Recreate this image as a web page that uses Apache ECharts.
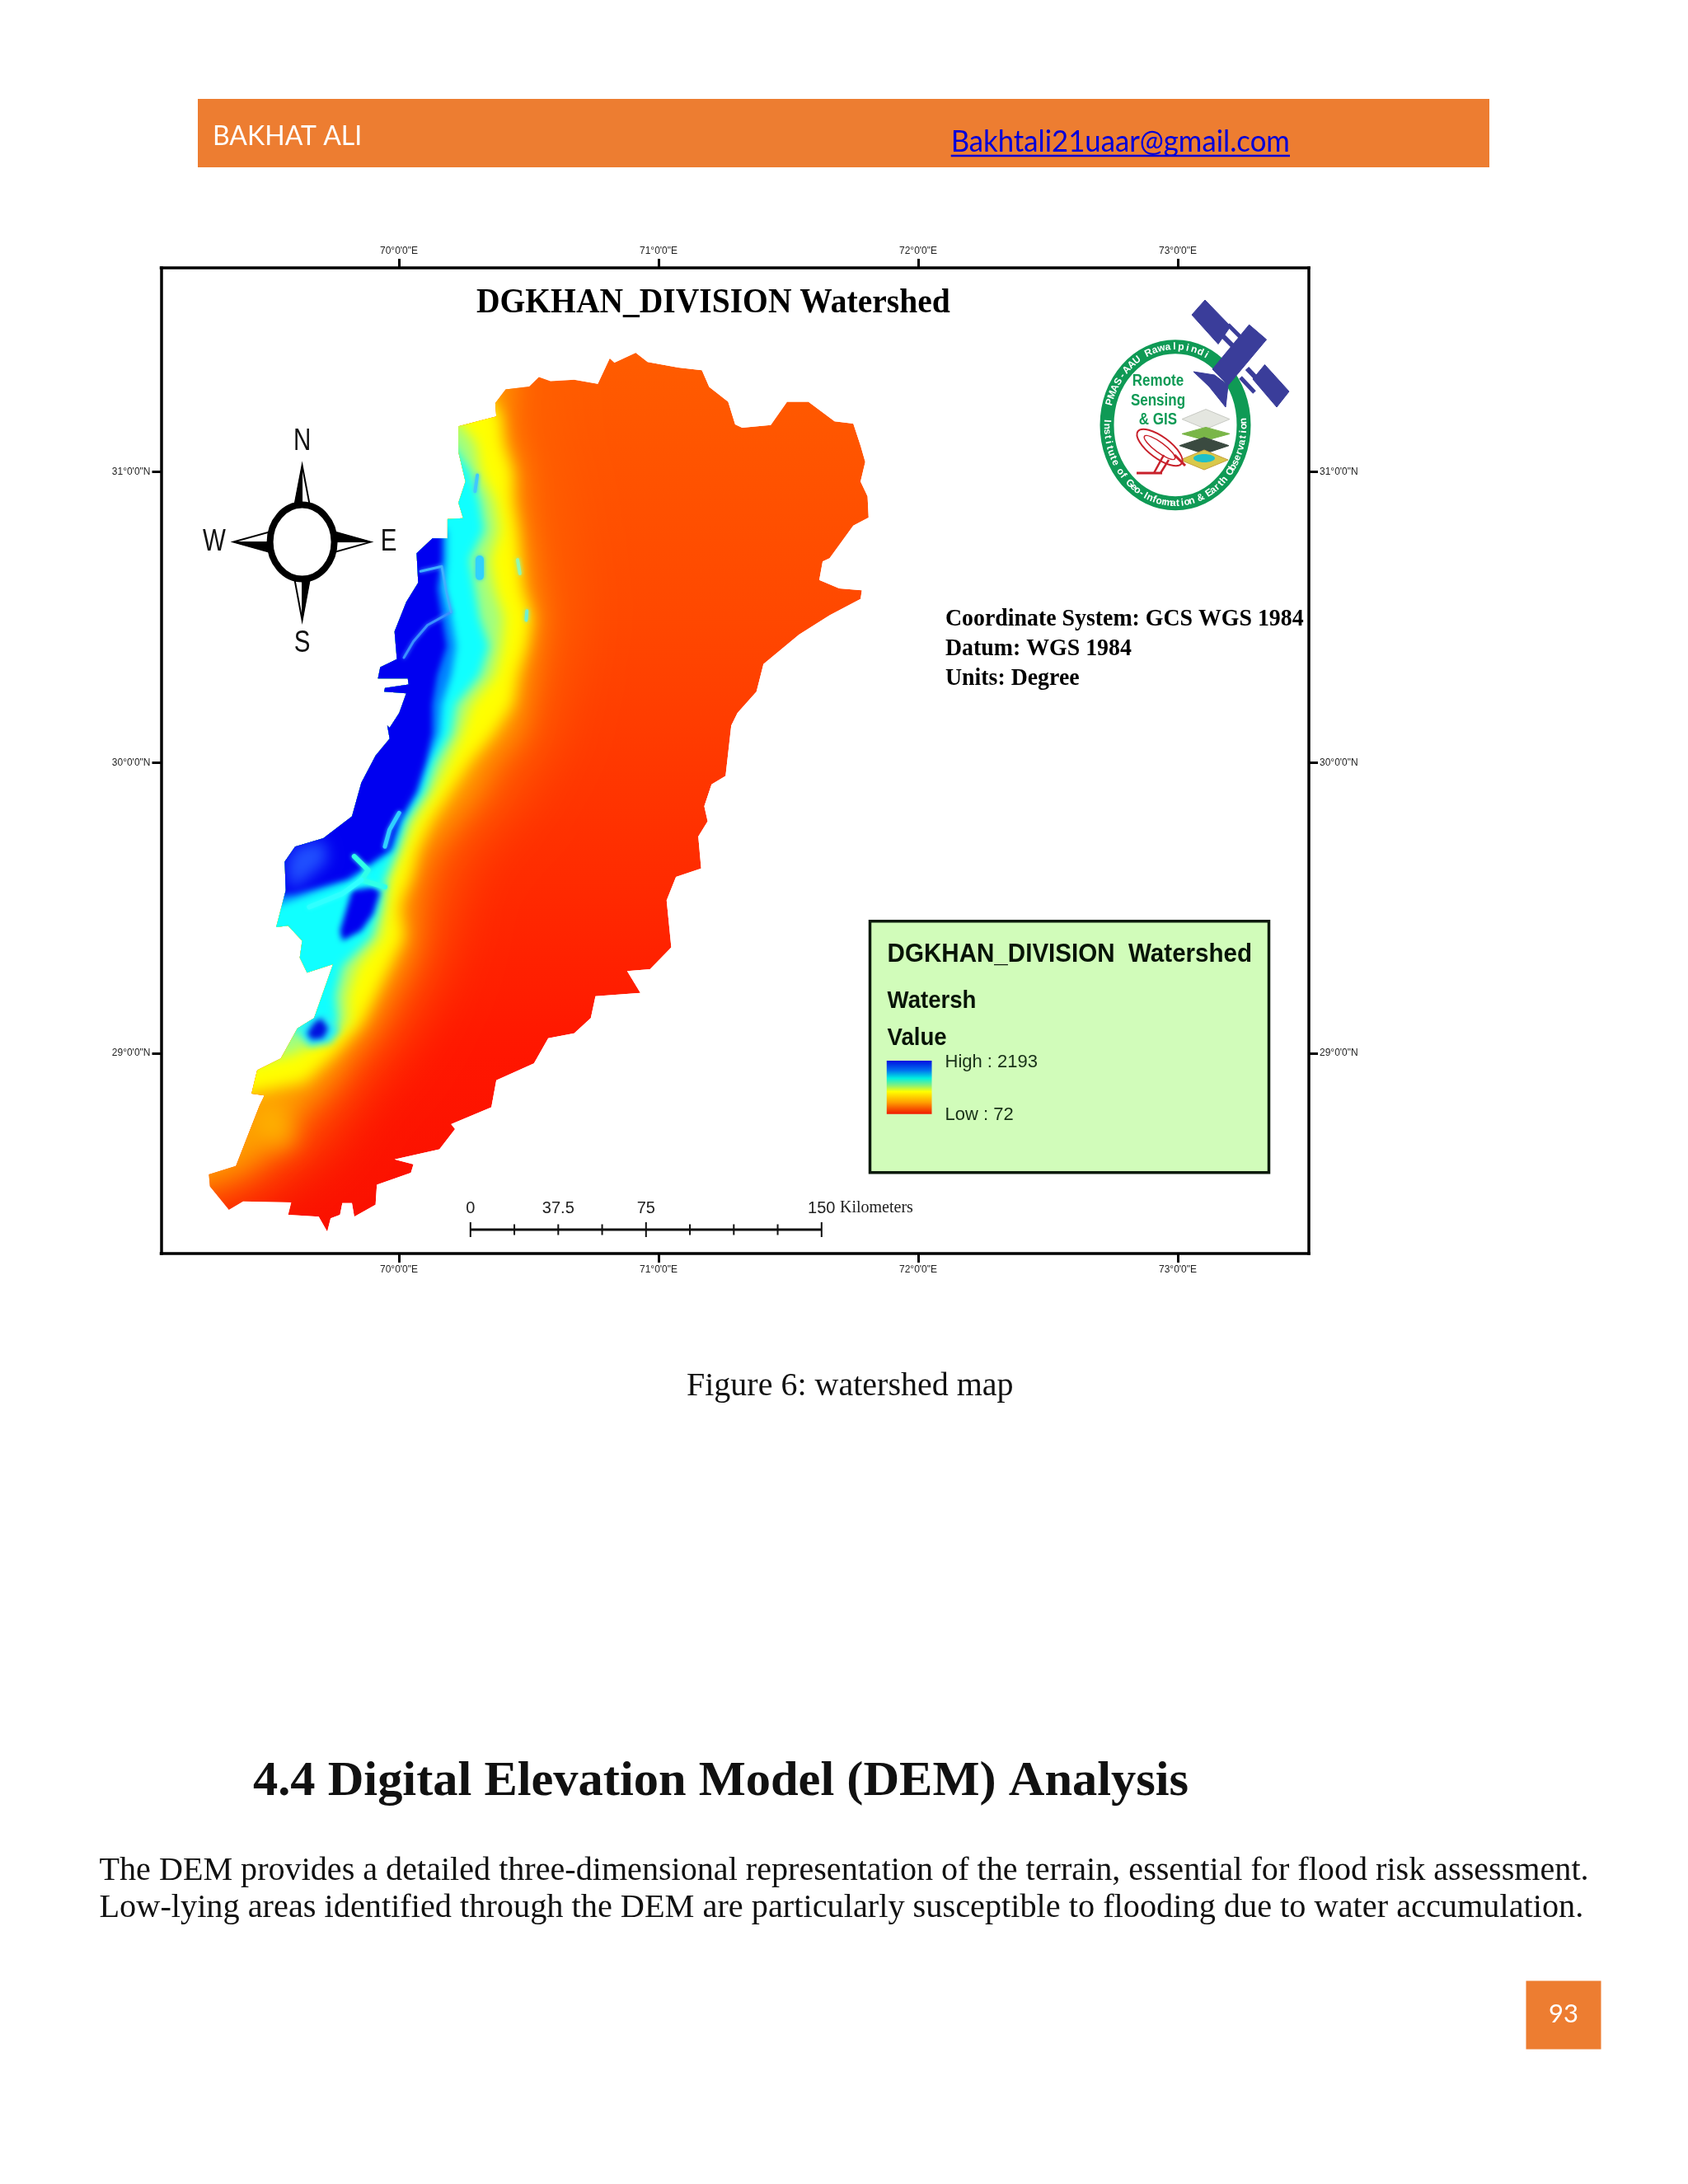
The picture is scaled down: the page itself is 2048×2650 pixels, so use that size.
<!DOCTYPE html>
<html>
<head>
<meta charset="utf-8">
<title>Watershed map</title>
<style>
html,body{margin:0;padding:0;background:#fff}
#chart{width:2048px;height:2650px}
</style>
<script src="https://cdn.jsdelivr.net/npm/echarts@6/dist/echarts.min.js"></script>
</head>
<body>
<div id="chart"></div>
<script>
// map ticks, degrees
const lonTicks=[70,71,72,73];
const latTicks=[29,30,31];

// scale bar, kilometres
const scaleTicks=[0,18.75,37.5,56.25,75,93.75,112.5,131.25,150];
const scaleLabels=[0,37.5,75,150];

// legend
const legendHigh=2193;
const legendLow=72;

// watershed boundary, [lon,lat], clockwise from the north-west corner
const basinOutline=[
[70.371,31.236],[70.411,31.284],[70.502,31.294],[70.539,31.326],[70.584,31.312],[70.675,31.317],[70.766,31.303],[70.812,31.391],
[70.830,31.376],[70.912,31.410],[70.958,31.378],[71.076,31.359],[71.167,31.350],[71.195,31.292],[71.268,31.241],[71.295,31.163],
[71.322,31.152],[71.432,31.161],[71.495,31.241],[71.577,31.241],[71.678,31.174],[71.750,31.166],[71.778,31.090],[71.796,31.034],
[71.778,30.967],[71.805,30.916],[71.809,30.843],[71.750,30.815],[71.659,30.703],[71.632,30.692],[71.619,30.628],[71.696,30.599],
[71.783,30.593],[71.778,30.563],[71.659,30.507],[71.541,30.440],[71.404,30.339],[71.377,30.244],[71.304,30.171],[71.280,30.128],
[71.258,29.954],[71.204,29.925],[71.176,29.850],[71.189,29.798],[71.153,29.746],[71.164,29.636],[71.067,29.607],[71.031,29.526],
[71.049,29.364],[70.967,29.289],[70.879,29.283],[70.930,29.208],[70.757,29.196],[70.739,29.121],[70.675,29.069],[70.575,29.052],
[70.520,28.965],[70.375,28.907],[70.356,28.814],[70.201,28.756],[70.216,28.739],[70.156,28.670],[69.983,28.635],[70.056,28.618],
[70.046,28.589],[69.915,28.548],[69.910,28.479],[69.828,28.438],[69.819,28.485],[69.782,28.485],[69.773,28.444],[69.737,28.432],
[69.724,28.386],[69.691,28.438],[69.573,28.444],[69.585,28.487],[69.400,28.490],[69.345,28.461],[69.272,28.542],[69.268,28.583],
[69.372,28.612],[69.463,28.820],[69.482,28.855],[69.432,28.861],[69.454,28.942],[69.545,28.982],[69.609,29.086],[69.673,29.121],
[69.746,29.306],[69.646,29.277],[69.618,29.329],[69.627,29.387],[69.573,29.439],[69.527,29.434],[69.564,29.561],[69.560,29.659],
[69.600,29.711],[69.709,29.740],[69.819,29.815],[69.855,29.931],[69.910,30.024],[69.964,30.082],[69.955,30.128],[69.964,30.120],
[70.001,30.171],[70.028,30.238],[69.943,30.244],[69.946,30.257],[70.037,30.269],[70.034,30.289],[69.919,30.289],[69.928,30.328],
[69.992,30.356],[69.983,30.451],[70.028,30.552],[70.074,30.619],[70.068,30.720],[70.129,30.771],[70.187,30.771],[70.187,30.838],
[70.247,30.841],[70.229,30.894],[70.256,30.967],[70.229,31.068],[70.229,31.157],[70.375,31.191]
];

// elevation bands: for each latitude row, the longitude where that band ends going east
const rowLats=[31.45,31.3,31.2,31.1,31.0,30.9,30.8,30.7,30.6,30.5,30.4,30.3,30.2,30.1,30.0,29.9,29.8,29.7,29.6,29.55,29.5,29.4,29.3,29.2,29.1,29.0,28.9,28.8,28.7,28.6,28.5,28.4];
const deepEdge=[70.620,70.584,70.584,70.584,70.621,70.639,70.639,70.657,70.675,70.675,70.657,70.621,70.602,70.584,70.511,70.457,70.347,70.256,70.201,70.190,70.183,70.165,70.128,70.074,70.019,69.946,69.837,69.764,69.709,69.550,69.400,69.1];
const orangeEdge=[70.420,70.438,70.420,70.438,70.475,70.475,70.493,70.511,70.520,70.548,70.529,70.511,70.493,70.466,70.365,70.311,70.220,70.128,70.083,70.070,70.056,70.065,70.028,69.964,69.910,69.819,69.746,69.618,69.545,69.420,69.1,69.1];
const yellowEdge=[69.1,70.300,70.393,70.402,70.438,70.438,70.457,70.466,70.475,70.511,70.493,70.457,70.438,70.365,70.274,70.201,70.128,70.074,70.046,70.020,70.001,70.019,69.964,69.910,69.855,69.755,69.636,69.1,69.1,69.1,69.1,69.1];
const greenEdge=[69.1,69.1,70.200,70.293,70.311,70.365,70.384,70.347,70.365,70.402,70.393,70.365,70.274,70.238,70.183,70.128,70.056,70.010,69.964,69.955,69.946,69.928,69.837,69.800,69.800,69.600,69.1,69.1,69.1,69.1,69.1,69.1];
const cyanEdge=[69.1,69.1,69.1,70.200,70.274,70.311,70.329,70.274,70.293,70.311,70.347,70.311,70.220,70.201,70.138,70.101,70.028,69.992,69.946,69.937,69.928,69.892,69.782,69.755,69.764,69.1,69.1,69.1,69.1,69.1,69.1,69.1];
const lightEdge=[69.1,69.1,69.1,69.1,69.1,69.1,70.183,70.183,70.174,70.201,70.220,70.201,70.165,70.156,70.110,70.074,70.010,69.974,69.819,69.660,69.500,69.1,69.1,69.1,69.1,69.1,69.1,69.1,69.1,69.1,69.1,69.1];
const blueEdge=[69.1,69.1,69.1,69.1,69.1,69.1,70.165,70.165,70.147,70.165,70.183,70.147,70.128,70.128,70.101,70.065,70.001,69.964,69.800,69.600,69.1,69.1,69.1,69.1,69.1,69.1,69.1,69.1,69.1,69.1,69.1,69.1];

// closed pockets that do not follow the bands
const westLobe=[[69.564,29.653],[69.600,29.711],[69.709,29.734],[69.728,29.665],[69.655,29.607],[69.582,29.561]];
const blueBasin=[[69.819,29.561],[69.901,29.572],[69.928,29.555],[69.901,29.480],[69.855,29.422],[69.782,29.387],[69.773,29.422],[69.800,29.503]];
const cyanRing=[[69.636,29.104],[69.718,29.133],[69.773,29.081],[69.737,29.034],[69.655,29.023],[69.615,29.069]];
const blueSpot=[[69.700,29.121],[69.728,29.086],[69.709,29.052],[69.664,29.046],[69.646,29.069],[69.673,29.104]];
const amberFan=[[69.491,28.832],[69.564,28.762],[69.600,28.693],[69.527,28.681],[69.463,28.751]];

// valley lines
const valleyA=[[70.201,30.518],[70.110,30.473],[70.056,30.417],[70.019,30.361]];
const valleyB=[[70.083,30.658],[70.165,30.675],[70.183,30.586],[70.201,30.518]];
const valleyC=[[69.946,29.572],[69.855,29.596],[69.882,29.630],[69.828,29.677]];
const valleyD=[[69.855,29.596],[69.782,29.549],[69.655,29.503]];
const valleyE=[[70.001,29.827],[69.964,29.769],[69.946,29.711]];
const valleyF=[[70.302,30.989],[70.293,30.933]];
const valleyG=[[70.311,30.698],[70.311,30.642]];
const valleyH=[[70.493,30.522],[70.490,30.490]];
const valleyI=[[70.457,30.698],[70.466,30.650]];

const WEST=69.1;
const SHIFT=4000;
const SERIF='"Liberation Serif","Times New Roman",serif';
const SANS='"Liberation Sans",Arial,sans-serif';
const ORANGE='#ed7d31';

function band(edge){
    const pts=[[WEST,rowLats[0]]];
    rowLats.forEach((lat,i)=>pts.push([edge[i],lat]));
    pts.push([WEST,rowLats[rowLats.length-1]]);
    return pts;
}

function toPx(api,pts,shift=0){
    return pts.map(p=>{
        const c=api.coord(p);
        return [c[0]-shift,c[1]];
    });
}

// soft layers sit off the canvas so only their blurred shadow lands on the map
function layer(name,pts,style,closed=true){
    return {
        type:'custom',
        name,
        xAxisIndex:0,
        yAxisIndex:0,
        silent:true,
        animation:false,
        encode:{x:0,y:1},
        data:pts,
        renderItem(params,api){
            if(params.dataIndex!==0){
                return null;
            }
            return {
                type:closed?'polygon':'polyline',
                shape:{points:toPx(api,pts,style.shadowOffsetX||0)},
                style,
                clipPath:{type:'polygon',shape:{points:toPx(api,basinOutline)}}
            };
        }
    };
}

function soft(fill,blur){
    return {fill,shadowColor:fill,shadowBlur:blur,shadowOffsetX:SHIFT};
}

function line(color,width){
    return {fill:null,stroke:color,lineWidth:width,lineCap:'round',lineJoin:'round',shadowColor:color,shadowBlur:5};
}

const baseFill=new echarts.graphic.LinearGradient(0,0,0,1,[
    {offset:0,color:'#ff5c00'},
    {offset:.3,color:'#ff4800'},
    {offset:.55,color:'#ff3000'},
    {offset:.8,color:'#ff1600'},
    {offset:1,color:'#fa1000'}
]);

const mapSeries=[
    layer('Boundary',basinOutline,{fill:baseFill}),
    layer('Band 1',band(deepEdge),soft('#ff6200',70)),
    layer('Band 2',band(orangeEdge),soft('#ff9e00',34)),
    layer('Amber fan',amberFan,soft('#ffbe00',30)),
    layer('Band 3',band(yellowEdge),soft('#ffff00',18)),
    layer('Band 4',band(greenEdge),soft('#a0ff80',16)),
    layer('Band 5',band(cyanEdge),soft('#10ffff',12)),
    layer('Band 6',band(lightEdge),soft('#0080ff',10)),
    layer('Band 7',band(blueEdge),soft('#0000f0',7)),
    layer('West lobe',westLobe,soft('#2050ff',18)),
    layer('Basin',blueBasin,soft('#0000f0',7)),
    layer('Ring',cyanRing,soft('#20f0ff',10)),
    layer('Spot',blueSpot,soft('#0010e0',7)),
    layer('Valley A',valleyA,line('#3a90ff',3),false),
    layer('Valley B',valleyB,line('#40b0ff',3),false),
    layer('Valley C',valleyC,line('#30ffe8',6),false),
    layer('Valley D',valleyD,line('#30ffff',6),false),
    layer('Valley E',valleyE,line('#30d0ff',5),false),
    layer('Valley F',valleyF,line('#40c8ff',4),false),
    layer('Valley G',valleyG,line('#30d0ff',10),false),
    layer('Valley H',valleyH,line('#70f0d0',4),false),
    layer('Valley I',valleyI,line('#90f8b0',4),false)
];

const scaleSeries={
    type:'custom',
    name:'Scale bar',
    xAxisIndex:2,
    yAxisIndex:2,
    silent:true,
    animation:false,
    data:scaleTicks.map(v=>[v,0]),
    encode:{x:0,y:1},
    renderItem(params,api){
        const v=api.value(0);
        const reach=v%75===0?.9:.65;
        const top=api.coord([v,reach]);
        const bottom=api.coord([v,-reach]);
        const children=[{type:'line',shape:{x1:top[0],y1:top[1],x2:bottom[0],y2:bottom[1]},style:{stroke:'#111',lineWidth:2}}];
        if(params.dataIndex===0){
            const a=api.coord([scaleTicks[0],0]);
            const b=api.coord([scaleTicks[scaleTicks.length-1],0]);
            children.push({type:'line',shape:{x1:a[0],y1:a[1],x2:b[0],y2:b[1]},style:{stroke:'#111',lineWidth:3}});
        }
        return {type:'group',children};
    }
};

function txt(text,x,y,font,fill='#000',align='left',extra={}){
    return Object.assign({type:'text',x,y,silent:true,style:{text,font,fill,align,verticalAlign:'middle'}},extra);
}

function poly(points,fill,stroke,lineWidth=2){
    return {type:'polygon',silent:true,shape:{points},style:{fill,stroke,lineWidth}};
}

function seg(x1,y1,x2,y2,stroke,lineWidth){
    return {type:'line',silent:true,shape:{x1,y1,x2,y2},style:{stroke,lineWidth}};
}

function compass(cx,cy){
    const out=[];
    const spikes=[
        [[cx,564.7],[cx-9,612],[cx,612],[cx+9,612]],
        [[449.8,cy],[cx+40,cy-12],[cx+40,cy],[cx+40,cy+12]],
        [[cx,752.5],[cx+9,704],[cx,704],[cx-9,704]],
        [[283.3,cy],[cx-40,cy+12],[cx-40,cy],[cx-40,cy-12]]
    ];
    spikes.forEach(s=>{
        out.push(poly([s[0],s[1],s[3]],'#fff','#000',2));
        out.push(poly([s[0],s[1],s[2]],'#000','#000',1));
    });
    out.push({type:'ellipse',silent:true,shape:{cx,cy,rx:39,ry:45},style:{fill:'#fff',stroke:'#000',lineWidth:8}});
    const narrow={scaleX:.82};
    out.push(txt('N',cx,536,'36px '+SANS,'#111','center',narrow));
    out.push(txt('S',cx,781,'36px '+SANS,'#111','center',narrow));
    out.push(txt('W',260,658,'36px '+SANS,'#111','center',narrow));
    out.push(txt('E',471.6,658,'36px '+SANS,'#111','center',narrow));
    return out;
}

function arcText(text,cx,cy,rx,ry,fromDeg,toDeg){
    const out=[];
    const chars=[...text];
    const dir=toDeg>fromDeg?1:-1;
    chars.forEach((ch,i)=>{
        const t=(fromDeg+(toDeg-fromDeg)*i/(chars.length-1))*Math.PI/180;
        const dx=-rx*Math.sin(t)*dir;
        const dy=ry*Math.cos(t)*dir;
        out.push(txt(ch,cx+rx*Math.cos(t),cy+ry*Math.sin(t),'bold 12px '+SANS,'#fff','center',{rotation:-Math.atan2(dy,dx)}));
    });
    return out;
}

function logo(){
    const cx=1426,cy=515.7;
    const green='#0f9a55',navy='#3a3d9a';
    const out=[];
    out.push({type:'ellipse',silent:true,shape:{cx,cy,rx:83,ry:95},style:{fill:'#fff',stroke:green,lineWidth:17}});
    out.push(...arcText('PMAS-AAU Rawalpindi',cx,cy,83,95,197,297));
    out.push(...arcText('Institute of Geo-Information & Earth Observation',cx,cy,83,95,183,-3));
    out.push(txt('Remote',1405,462,'bold 20px '+SANS,green,'center',{scaleX:.85}));
    out.push(txt('Sensing',1405,486,'bold 20px '+SANS,green,'center',{scaleX:.85}));
    out.push(txt('& GIS',1405,509,'bold 20px '+SANS,green,'center',{scaleX:.85}));
    // satellite
    out.push(seg(1480,404,1500,424,navy,6));
    out.push(seg(1490,394,1510,414,navy,5));
    out.push(seg(1513,447,1530,465,navy,6));
    out.push(seg(1505,458,1522,476,navy,5));
    out.push(poly([[1462,364],[1493,396],[1478,417.5],[1446,382]],navy,navy,1));
    out.push(poly([[1534.5,442.5],[1564,475],[1549,494],[1520,460]],navy,navy,1));
    out.push(poly([[1515.6,394],[1536.6,412],[1490,467.5],[1471,448]],navy,navy,1));
    out.push(poly([[1448,451],[1473.5,455],[1490,467.5],[1487,494],[1467,469]],navy,navy,1));
    // map layers stack
    out.push(poly([[1434,508.6],[1463,496.6],[1492,508.6],[1463,520.6]],'#e4e6e0','#c8cac4',1));
    out.push(poly([[1434,526.4],[1463,518.4],[1492,526.4],[1463,534.4]],'#7ab648','#7ab648',1));
    out.push(poly([[1431,540.7],[1461,530.7],[1491,540.7],[1461,550.7]],'#3a4a40','#3a4a40',1));
    out.push(poly([[1432,558],[1461,546],[1490,558],[1461,570]],'#d9c84a','#c8a040',1));
    out.push({type:'ellipse',silent:true,shape:{cx:1461,cy:556,rx:13,ry:5},style:{fill:'#20c0c8'}});
    // dish
    out.push({type:'ellipse',silent:true,x:1407,y:543,rotation:-.64,shape:{cx:0,cy:0,rx:33,ry:13},style:{fill:'#fff',stroke:'#c8202a',lineWidth:2}});
    out.push({type:'ellipse',silent:true,x:1407,y:543,rotation:-.64,shape:{cx:0,cy:0,rx:23,ry:6},style:{fill:null,stroke:'#c8202a',lineWidth:1.5}});
    out.push(seg(1379,574,1410,574,'#c8202a',3));
    out.push(seg(1400,574,1412,552,'#c8202a',2.5));
    out.push(seg(1408,574,1418,558,'#c8202a',2.5));
    out.push(seg(1425,552,1438,565,'#c8202a',3));
    return out;
}

function legend(){
    const ramp=new echarts.graphic.LinearGradient(0,0,0,1,[
        {offset:0,color:'#0010e0'},
        {offset:.18,color:'#0070f0'},
        {offset:.33,color:'#00f0e0'},
        {offset:.46,color:'#80f080'},
        {offset:.58,color:'#ffff00'},
        {offset:.78,color:'#ffa000'},
        {offset:1,color:'#f01800'}
    ]);
    return [
        {type:'rect',silent:true,shape:{x:1055.5,y:1117.7,width:484,height:305},style:{fill:'#d1fcba',stroke:'#0c1a0c',lineWidth:3.5}},
        txt('DGKHAN_DIVISION  Watershed',1076.6,1158,'bold 32px '+SANS,'#071407','left',{scaleX:.924}),
        txt('Watersh',1076.6,1215,'bold 30px '+SANS,'#071407','left',{scaleX:.92}),
        txt('Value',1076.6,1260,'bold 30px '+SANS,'#071407','left',{scaleX:.92}),
        {type:'rect',silent:true,shape:{x:1075.8,y:1287,width:54.7,height:64.7},style:{fill:ramp}},
        txt('High : '+legendHigh,1146.5,1289,'22px '+SANS,'#173017'),
        txt('Low : '+legendLow,1146.5,1352.7,'22px '+SANS,'#173017')
    ];
}

const graphicElements=[
    {type:'rect',silent:true,shape:{x:240,y:120,width:1567,height:83},style:{fill:ORANGE}},
    txt('BAKHAT ALI',258,166,'32px Lato,sans-serif','#fff'),
    txt('Bakhtali21uaar@gmail.com',1153.7,172.5,'36px Lato,sans-serif','#0000d8','left',{scaleX:.964}),
    seg(1153.7,189,1565,189,'#0000d8',2.5),
    txt('DGKHAN_DIVISION Watershed',578,368,'bold 43px '+SERIF,'#000','left',{scaleX:.92}),
    txt('Coordinate System: GCS WGS 1984',1147,751.5,'bold 30px '+SERIF,'#000','left',{scaleX:.928}),
    txt('Datum: WGS 1984',1147,787,'bold 30px '+SERIF,'#000','left',{scaleX:.928}),
    txt('Units: Degree',1147,823,'bold 30px '+SERIF,'#000','left',{scaleX:.928}),
    txt('Kilometers',1019,1466,'20px '+SERIF,'#222'),
    txt('Figure 6: watershed map',833,1682,'40px '+SERIF,'#111'),
    txt('4.4 Digital Elevation Model (DEM) Analysis',307,2162,'bold 60px '+SERIF,'#111','left',{scaleX:1.0075}),
    txt('The DEM provides a detailed three-dimensional representation of the terrain, essential for flood risk assessment.',120.5,2270,'40px '+SERIF,'#111','left',{scaleX:1.003}),
    txt('Low-lying areas identified through the DEM are particularly susceptible to flooding due to water accumulation.',120.5,2315,'40px '+SERIF,'#111','left',{scaleX:1.0076}),
    {type:'rect',silent:true,shape:{x:1851.5,y:2403.5,width:91,height:83},style:{fill:ORANGE}},
    txt('93',1897,2444,'31px Lato,sans-serif','#fff','center'),
    ...compass(366.6,657.6),
    ...logo(),
    ...legend()
];

function lonAxis(position){
    return {
        type:'value',
        gridIndex:0,
        position,
        min:69.0841,
        max:73.5047,
        axisLine:{show:true,onZero:false,lineStyle:{color:'#000',width:3.5,cap:'square'}},
        axisTick:{show:true,length:11,customValues:lonTicks,lineStyle:{color:'#000',width:3}},
        axisLabel:{show:true,customValues:lonTicks,margin:14,fontSize:12,color:'#222',fontFamily:'Liberation Sans',formatter:v=>`${v}°0'0"E`},
        splitLine:{show:false}
    };
}

function latAxis(position){
    return {
        type:'value',
        gridIndex:0,
        position,
        min:28.311,
        max:31.702,
        axisLine:{show:true,onZero:false,lineStyle:{color:'#000',width:3.5,cap:'square'}},
        axisTick:{show:true,length:11,customValues:latTicks,lineStyle:{color:'#000',width:3}},
        axisLabel:{show:true,customValues:latTicks,margin:13,fontSize:12,color:'#222',fontFamily:'Liberation Sans',formatter:v=>`${v}°0'0"N`},
        splitLine:{show:false}
    };
}

const chart=echarts.init(document.getElementById('chart'),null,{renderer:'canvas'});

chart.setOption({
    animation:false,
    backgroundColor:'#fff',
    grid:[
        {left:195.5,top:325,width:1392.5,height:1196,containLabel:false},
        {left:570.8,top:1482,width:426,height:20,containLabel:false}
    ],
    xAxis:[
        lonAxis('top'),
        lonAxis('bottom'),
        {
            type:'value',
            gridIndex:1,
            position:'top',
            min:0,
            max:150,
            axisLine:{show:false},
            axisTick:{show:false},
            splitLine:{show:false},
            axisLabel:{show:true,customValues:scaleLabels,margin:6,fontSize:20,color:'#222',fontFamily:'Liberation Sans',formatter:v=>String(v)}
        }
    ],
    yAxis:[
        latAxis('left'),
        latAxis('right'),
        {type:'value',gridIndex:1,min:-1,max:1,show:false}
    ],
    series:[...mapSeries,scaleSeries],
    graphic:{elements:graphicElements}
});
</script>
</body>
</html>
